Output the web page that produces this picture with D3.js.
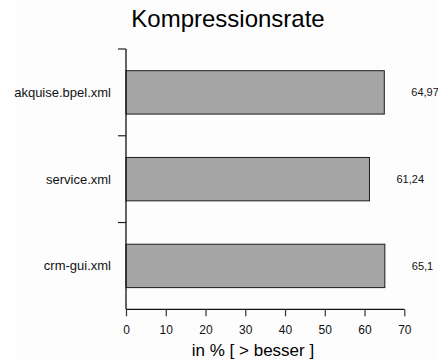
<!DOCTYPE html>
<html>
<head>
<meta charset="utf-8">
<script src="https://cdn.jsdelivr.net/npm/d3@7"></script>
<style>
  html, body { margin: 0; padding: 0; background: #ffffff; }
  svg { display: block; font-family: "Liberation Sans", Arial, Helvetica, sans-serif; }
</style>
</head>
<body>
<svg id="chart" width="438" height="360"></svg>
<script>
// Compression rate per file, in percent
const files = ["akquise.bpel.xml", "service.xml", "crm-gui.xml"];
const rates = [64.97, 61.24, 65.1];
const rateLabels = ["64,97", "61,24", "65,1"];
const xTicks = [0, 10, 20, 30, 40, 50, 60, 70];

const svg = d3.select("#chart");
const W = 438, H = 360;

svg.append("rect").attr("width", W).attr("height", H).attr("fill", "#ffffff");
svg.append("rect").attr("x", 15).attr("width", W - 15).attr("height", H).attr("fill", "#fdfdfd");

const plot = { left: 126, right: 404.3, top: 49, bottom: 309.3 };

const x = d3.scaleLinear().domain([0, 70]).range([plot.left, plot.right]);
const y = d3.scaleBand().domain(files).range([plot.top, plot.bottom])
  .paddingInner(0.5).paddingOuter(0.25);

// Bars
svg.append("g").selectAll("rect")
  .data(files)
  .join("rect")
  .attr("x", x(0))
  .attr("y", d => y(d))
  .attr("width", (d, i) => x(rates[i]) - x(0))
  .attr("height", y.bandwidth())
  .attr("fill", "#a6a6a6")
  .attr("stroke", "#1c1c1c")
  .attr("stroke-width", 1);

// Value labels to the right of each bar
svg.append("g").selectAll("text")
  .data(files)
  .join("text")
  .attr("x", (d, i) => x(rates[i]) + 27)
  .attr("y", d => y(d) + y.bandwidth() / 2)
  .attr("dy", "0.35em")
  .attr("font-size", 11)
  .attr("fill", "#111")
  .text((d, i) => rateLabels[i]);

// X axis
const xAxis = d3.axisBottom(x).tickValues(xTicks).tickSize(7).tickPadding(9)
  .tickFormat(d3.format("d"));
const gx = svg.append("g")
  .attr("transform", `translate(0,${plot.bottom})`)
  .call(xAxis);
gx.select(".domain").attr("stroke", "#111").attr("stroke-width", 1.3)
  .attr("d", `M${plot.left},0H${plot.right}`);
gx.selectAll(".tick line").attr("stroke", "#333").attr("stroke-width", 1.2);
gx.selectAll(".tick text").attr("font-size", 12).attr("fill", "#111")
  .attr("font-family", "'Liberation Sans', Arial, sans-serif");

// Y axis: line plus separator ticks between categories
const step = y.step();
const gy = svg.append("g");
gy.append("line")
  .attr("x1", plot.left).attr("x2", plot.left)
  .attr("y1", plot.top).attr("y2", plot.bottom)
  .attr("stroke", "#111").attr("stroke-width", 1.3);
gy.selectAll("line.sep")
  .data(files)
  .join("line")
  .attr("class", "sep")
  .attr("x1", plot.left - 8).attr("x2", plot.left)
  .attr("y1", d => y(d) - step * y.paddingOuter())
  .attr("y2", d => y(d) - step * y.paddingOuter())
  .attr("stroke", "#222").attr("stroke-width", 1.2);
gy.selectAll("text")
  .data(files)
  .join("text")
  .attr("x", 111)
  .attr("y", d => y(d) + y.bandwidth() / 2)
  .attr("dy", "0.35em")
  .attr("text-anchor", "end")
  .attr("font-size", 13)
  .attr("fill", "#111")
  .text(d => d);

// Title
svg.append("text")
  .attr("x", 228).attr("y", 27)
  .attr("text-anchor", "middle")
  .attr("font-size", 24)
  .attr("fill", "#000")
  .text("Kompressionsrate");

// X axis title
svg.append("text")
  .attr("x", 253).attr("y", 356)
  .attr("text-anchor", "middle")
  .attr("font-size", 17)
  .attr("fill", "#000")
  .text("in % [ > besser ]");
</script>
</body>
</html>
